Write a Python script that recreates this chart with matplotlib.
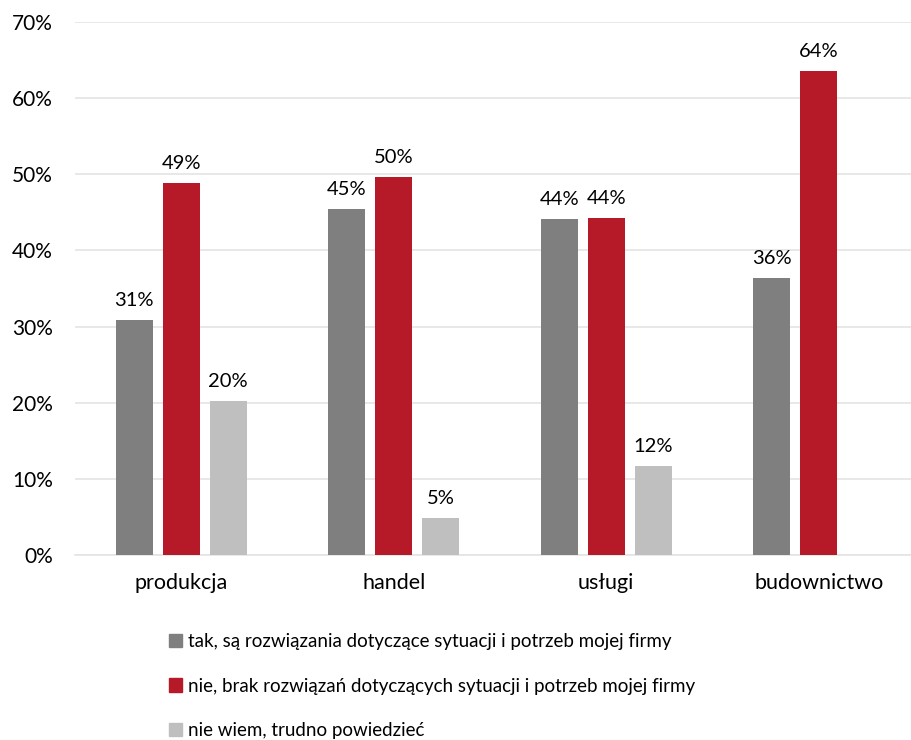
import matplotlib
matplotlib.use("Agg")
import matplotlib.pyplot as plt
import numpy as np
from matplotlib.patches import Patch

plt.rcParams['font.family'] = ['Lato', 'DejaVu Sans']

categories = ['produkcja', 'handel', 'usługi', 'budownictwo']
series_names = [
    'tak, są rozwiązania dotyczące sytuacji i potrzeb mojej firmy',
    'nie, brak rozwiązań dotyczących sytuacji i potrzeb mojej firmy',
    'nie wiem, trudno powiedzieć',
]
tak = [30.8, 45.4, 44.1, 36.4]
nie = [48.9, 49.6, 44.2, 63.6]
nie_wiem = [20.2, 4.9, 11.7, None]
colors = ['#7F7F7F', '#B61A29', '#BFBFBF']

fig = plt.figure(figsize=(9.12, 7.40), dpi=100)
ax = fig.add_axes([75/912, 0.25, 837/912, 0.7203])

x = np.arange(len(categories))
w = 0.174
step = 0.221

for i, (vals, c) in enumerate(zip([tak, nie, nie_wiem], colors)):
    for xi, v in zip(x, vals):
        if v is None:
            continue
        xp = xi + (i - 1) * step
        ax.bar(xp, v, width=w, color=c, zorder=3)
        ax.annotate(f'{round(v):.0f}%', (xp, v), xytext=(0, 8),
                    textcoords='offset points', ha='center', va='bottom',
                    fontsize=14.5, color='#000000')

ax.set_xlim(-0.5, -0.5 + 837/212.5)
ax.set_ylim(0, 70)
ax.set_yticks(range(0, 71, 10))
ax.set_yticklabels([f'{t}%' for t in range(0, 71, 10)], fontsize=15)
ax.set_xticks(x)
ax.set_xticklabels(categories, fontsize=15.5)
ax.tick_params(axis='both', length=0)
ax.tick_params(axis='y', pad=16)
ax.tick_params(axis='x', pad=13)
ax.grid(axis='y', color='#E4E4E4', linewidth=1.2, zorder=0)
for s in ['top', 'right', 'left']:
    ax.spines[s].set_visible(False)
ax.spines['bottom'].set_color('#E4E4E4')
ax.spines['bottom'].set_linewidth(1.2)

handles = [Patch(color=c) for c in colors]
fig.legend(handles, series_names, loc='upper left',
           bbox_to_anchor=(160/912, 1 - 624/740), frameon=False,
           fontsize=13.5, handlelength=0.7, handleheight=0.7,
           handletextpad=0.3, labelspacing=1.45, borderpad=0)

fig.savefig('out.png', dpi=100)
